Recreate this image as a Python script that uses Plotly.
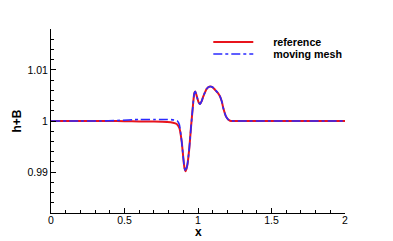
import plotly.graph_objects as go

ref_x = [0, 0.2, 0.4, 0.5, 0.6, 0.7, 0.79, 0.83, 0.855, 0.873, 0.889, 0.900, 0.908, 0.916, 0.928,
         0.941, 0.952, 0.964, 0.975, 0.982, 0.995, 1.005, 1.014, 1.025, 1.036, 1.059, 1.082,
         1.1, 1.116, 1.135, 1.15, 1.162, 1.172, 1.19, 1.205, 1.218, 1.24, 1.3, 1.5, 2.0]
ref_y = [1.0, 1.0, 1.0, 0.99995, 0.99992, 0.9999, 0.9998, 0.99965, 0.9994, 0.99864, 0.99603,
         0.99279, 0.9908, 0.99018, 0.99149, 0.99474, 0.99864, 1.00253, 1.00545, 1.00577,
         1.0045, 1.0036, 1.00331, 1.0039, 1.0048, 1.0063, 1.00674, 1.0066, 1.0061, 1.0055,
         1.0048, 1.0038, 1.00253, 1.0009, 1.0003, 1.00006, 1.0, 1.0, 1.0, 1.0]

mm_x = [0, 0.2, 0.33, 0.45, 0.6, 0.7, 0.79, 0.84, 0.86, 0.873, 0.889, 0.900, 0.908, 0.916, 0.928,
        0.941, 0.952, 0.964, 0.975, 0.982, 0.995, 1.005, 1.014, 1.025, 1.036, 1.059, 1.082,
        1.1, 1.116, 1.135, 1.15, 1.162, 1.172, 1.19, 1.205, 1.218, 1.24, 1.3, 1.5, 2.0]
mm_y = [1.0, 1.0, 1.0, 1.0001, 1.0003, 1.0003, 1.0003, 1.0002, 1.0, 0.9993, 0.99603,
        0.99279, 0.9908, 0.99018, 0.99149, 0.99474, 0.99864, 1.00253, 1.00545, 1.00577,
        1.0045, 1.0036, 1.00331, 1.0039, 1.0048, 1.0063, 1.00674, 1.0066, 1.0061, 1.0055,
        1.0048, 1.0038, 1.00253, 1.0009, 1.0003, 1.00006, 1.0, 1.0, 1.0, 1.0]

x_ticks = [0, 0.5, 1, 1.5, 2]
x_labels = ["0", "0.5", "1", "1.5", "2"]
y_ticks = [0.99, 1.0, 1.01]
y_labels = ["0.99", "1", "1.01"]

FONT = "Liberation Sans, Arial, sans-serif"
PAD = "&nbsp;" * 5
fig = go.Figure()
fig.add_trace(go.Scatter(x=ref_x, y=ref_y, mode="lines", name=PAD + "<b>reference</b>", legend="legend",
                         line=dict(color="#e8141c", width=2, shape="spline", smoothing=0.5)))
fig.add_trace(go.Scatter(x=mm_x, y=mm_y, mode="lines", name=PAD + "<b>moving mesh</b>", legend="legend2",
                         line=dict(color="#2a2aff", width=1.6, dash="dashdot", shape="spline", smoothing=0.5)))

axis_font = dict(family=FONT, size=10.5, color="black")
leg_common = dict(xanchor="left", yanchor="middle", bgcolor="rgba(0,0,0,0)",
                  font=dict(family=FONT, size=10.7, color="black"), itemwidth=40,
                  borderwidth=0)
fig.update_layout(
    width=393, height=241,
    margin=dict(l=43, r=56, t=21, b=36),
    paper_bgcolor="white", plot_bgcolor="white",
    font=axis_font,
    showlegend=True,
    legend=dict(x=0.535, y=(213 - 42) / 184, **leg_common),
    legend2=dict(x=0.535, y=(213 - 54) / 184, **leg_common),
    xaxis=dict(range=[0, 2], tickmode="array", tickvals=x_ticks, ticktext=x_labels,
               automargin=False, ticklabelstandoff=-3,
               showline=True, linecolor="black", linewidth=1, mirror=False,
               ticks="inside", ticklen=5, tickcolor="black", showgrid=False, zeroline=False,
               minor=dict(dtick=0.1, ticks="inside", ticklen=3, tickcolor="black", showgrid=False),
               tickfont=axis_font),
    yaxis=dict(range=[0.982, 1.018], tickmode="array", tickvals=y_ticks, ticktext=y_labels,
               automargin=False,
               showline=True, linecolor="black", linewidth=1, mirror=False,
               ticks="inside", ticklen=5, tickcolor="black", showgrid=False, zeroline=False,
               minor=dict(tick0=0.98, dtick=0.002, ticks="inside", ticklen=3, tickcolor="black", showgrid=False),
               title=dict(text="<b>h+B</b>", standoff=3, font=dict(size=12)),
               tickfont=axis_font),
    annotations=[dict(text="<b>x</b>", x=0.5, y=(213 - 232) / 184, xref="paper", yref="paper",
                      xanchor="center", yanchor="middle", showarrow=False,
                      font=dict(family=FONT, size=12, color="black"))],
)
fig.write_html("out.html")
